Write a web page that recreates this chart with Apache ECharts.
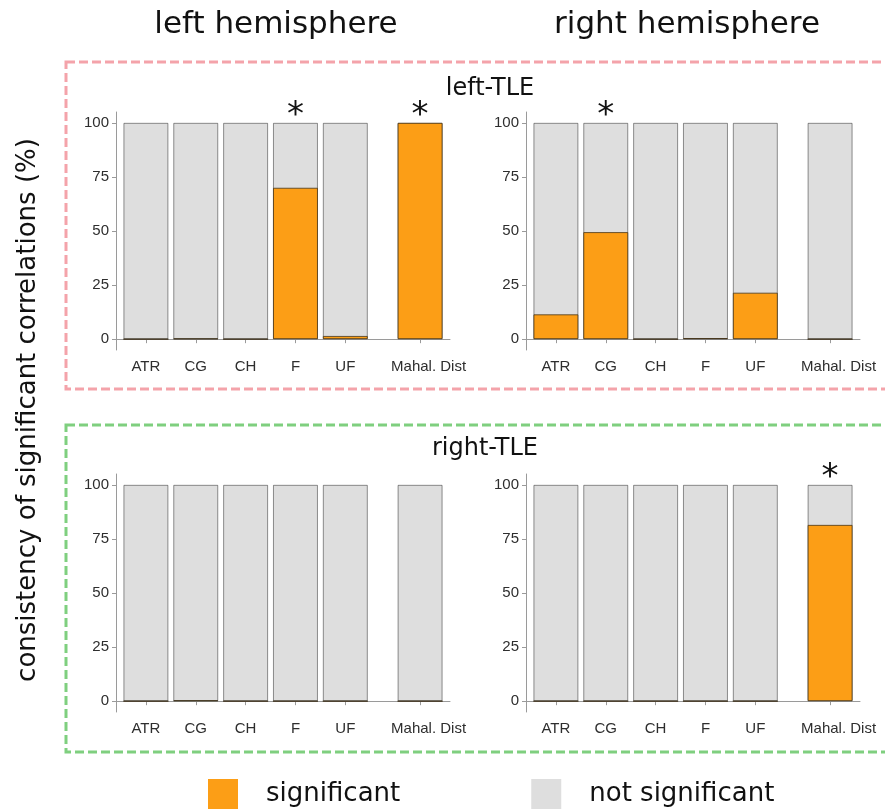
<!DOCTYPE html>
<html>
<head>
<meta charset="utf-8">
<script src="https://cdn.jsdelivr.net/npm/echarts@6/dist/echarts.min.js"></script>
<style>
  html, body { margin: 0; padding: 0; background: #fff; }
  #chart { width: 885px; height: 809px; }
</style>
</head>
<body>
<div id="chart"></div>
<script>
// tract names and where they sit on the x axis (Mahal. Dist is set apart)
var tracts = ['ATR', 'CG', 'CH', 'F', 'UF', 'Mahal. Dist'];
var tractPos = [1, 2, 3, 4, 5, 6.5];
var yTicks = [0, 25, 50, 75, 100];

// % of significant correlations, one array per panel
var leftTleLeftHemi = [0, 0.3, 0, 70, 1.5, 100];
var leftTleRightHemi = [11.5, 49.5, 0, 0.5, 21.5, 0];
var rightTleLeftHemi = [0, 0.4, 0, 0, 0, 0];
var rightTleRightHemi = [0, 0, 0, 0, 0, 81.5];

// asterisks above bars (1 = marked)
var leftTleLeftStars = [0, 0, 0, 1, 0, 1];
var leftTleRightStars = [0, 1, 0, 0, 0, 0];
var rightTleLeftStars = [0, 0, 0, 0, 0, 0];
var rightTleRightStars = [0, 0, 0, 0, 0, 1];

var panels = [
  { sig: leftTleLeftHemi, stars: leftTleLeftStars, left: 116, top: 112 },
  { sig: leftTleRightHemi, stars: leftTleRightStars, left: 526, top: 112 },
  { sig: rightTleLeftHemi, stars: rightTleLeftStars, left: 116, top: 474 },
  { sig: rightTleRightHemi, stars: rightTleRightStars, left: 526, top: 474 }
];

var orange = '#FC9E16';
var grey = '#DEDEDE';
var tickColor = '#2e2e2e';
var font = 'Liberation Sans';
var font2 = 'DejaVu Sans';

var chart = echarts.init(document.getElementById('chart'));

var grids = [], xAxes = [], yAxes = [], series = [];
panels.forEach(function (p, i) {
  grids.push({ left: p.left, top: p.top, width: 334, height: 238 });
  xAxes.push({
    type: 'value', gridIndex: i, min: 0.4, max: 7.1,
    splitLine: { show: false },
    axisLine: { show: true, lineStyle: { color: '#9a9a9a', width: 1 } },
    axisTick: { show: true, customValues: tractPos, length: 4, lineStyle: { color: '#9a9a9a' } },
    axisLabel: {
      customValues: tractPos, color: tickColor, fontFamily: font, fontSize: 15, margin: 9,
      formatter: function (v) {
        var k = tractPos.indexOf(v);
        // the long label sits a little right of its tick in the original
        return k === 5 ? '{m|' + tracts[k] + '}' : (tracts[k] || '');
      },
      rich: { m: { fontFamily: font, fontSize: 15, color: tickColor, padding: [0, 0, 0, 17] } }
    }
  });
  yAxes.push({
    type: 'value', gridIndex: i, min: -5, max: 105,
    splitLine: { show: false },
    axisLine: { show: true, lineStyle: { color: '#9a9a9a', width: 1 } },
    axisTick: { show: true, customValues: yTicks, length: 4, lineStyle: { color: '#9a9a9a' } },
    axisLabel: { customValues: yTicks, color: tickColor, fontFamily: font, fontSize: 15, margin: 7 }
  });
  var stars = p.stars;
  // full column = significant + not significant share
  series.push({
    name: 'not significant', type: 'bar',
    xAxisIndex: i, yAxisIndex: i, barWidth: 45, barGap: '-100%',
    data: p.sig.map(function (v, k) { return [tractPos[k], v + (100 - v)]; }),
    itemStyle: { color: grey, borderColor: 'rgba(0,0,0,0.42)', borderWidth: 1 },
    label: {
      show: true, position: 'top', distance: -10,
      fontFamily: font2, fontSize: 34, color: '#111',
      formatter: function (params) { return stars[params.dataIndex] ? '*' : ''; }
    }
  });
  series.push({
    name: 'significant', type: 'bar',
    xAxisIndex: i, yAxisIndex: i, barWidth: 45, barGap: '-100%',
    data: p.sig.map(function (v, k) { return [tractPos[k], v]; }),
    itemStyle: { color: orange, borderColor: 'rgba(60,45,20,0.75)', borderWidth: 1 }
  });
});

var option = {
  animation: false,
  backgroundColor: '#fff',
  grid: grids,
  xAxis: xAxes,
  yAxis: yAxes,
  series: series,
  title: [
    { text: 'left hemisphere', left: 271, top: 4, textAlign: 'center',
      textStyle: { fontFamily: font2, fontSize: 31, fontWeight: 'normal', color: '#111' } },
    { text: 'right hemisphere', left: 682, top: 4, textAlign: 'center',
      textStyle: { fontFamily: font2, fontSize: 31, fontWeight: 'normal', color: '#111' } },
    { text: 'left-TLE', left: 485, top: 72, textAlign: 'center',
      textStyle: { fontFamily: font2, fontSize: 24, fontWeight: 'normal', color: '#111' } },
    { text: 'right-TLE', left: 480, top: 432, textAlign: 'center',
      textStyle: { fontFamily: font2, fontSize: 24, fontWeight: 'normal', color: '#111' } }
  ],
  legend: {
    data: ['significant', 'not significant'],
    left: 203, top: 774,
    icon: 'rect', itemWidth: 30, itemHeight: 30, itemGap: 131,
    itemStyle: { borderWidth: 0 },
    textStyle: { fontFamily: font2, fontSize: 26, color: '#111', padding: [0, 0, 0, 23] }
  },
  graphic: [
    { type: 'rect', shape: { x: 66, y: 62, width: 840, height: 327 },
      style: { fill: 'none', stroke: '#F4A3AA', lineWidth: 3, lineDash: [9, 4] } },
    { type: 'rect', shape: { x: 66, y: 425, width: 840, height: 327 },
      style: { fill: 'none', stroke: '#7FCF7F', lineWidth: 3, lineDash: [9, 4] } },
    { type: 'text', x: 28, y: 410, rotation: Math.PI / 2,
      style: { text: 'consistency of significant correlations (%)', fontFamily: font2, fontSize: 26,
        fill: '#111', textAlign: 'center', textVerticalAlign: 'middle' } }
  ]
};
chart.setOption(option);
</script>
</body>
</html>
